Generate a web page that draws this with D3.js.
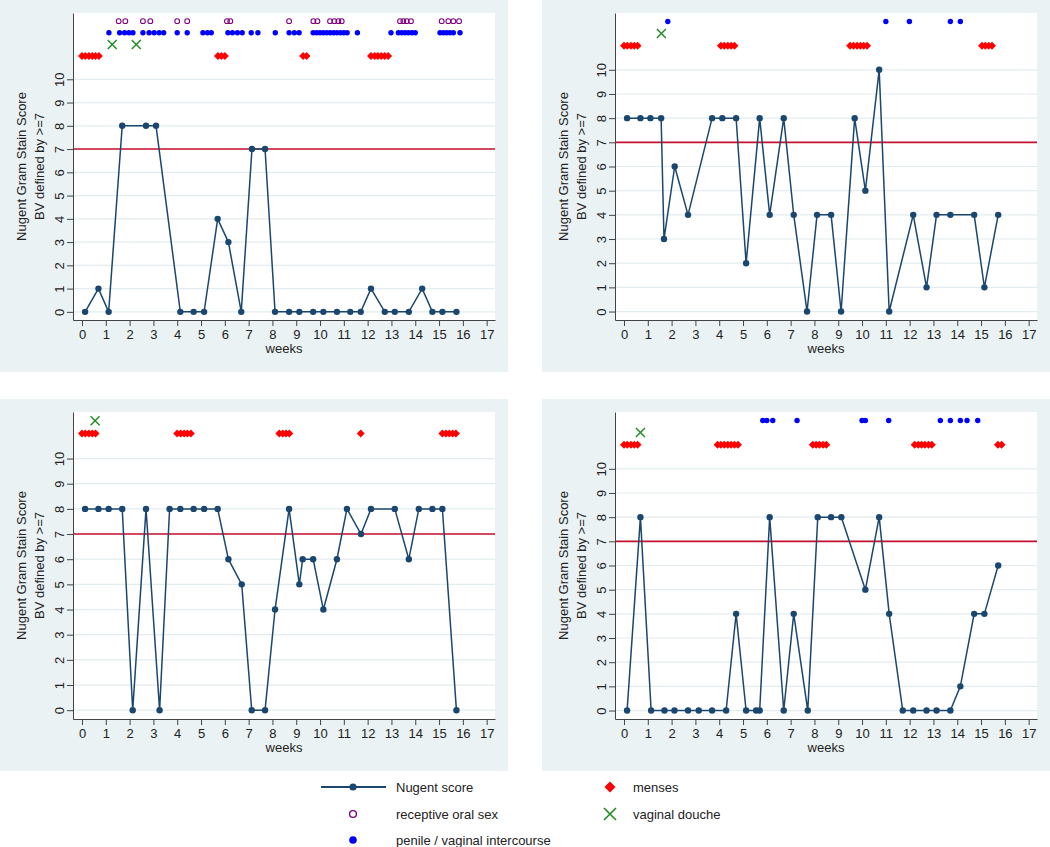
<!DOCTYPE html>
<html>
<head>
<meta charset="utf-8">
<script src="https://cdn.jsdelivr.net/npm/d3@7"></script>
<style>
  body { margin: 0; background: #fff; }
  text { font-family: "Liberation Sans", Arial, sans-serif; fill: #222; }
</style>
</head>
<body>
<svg id="chart" width="1050" height="847"></svg>
<script>
// ---- data (weeks, score) per participant panel ----
const nugentA = [[0.13,0],[0.69,1],[1.12,0],[1.69,8],[2.69,8],[3.11,8],[4.13,0],[4.69,0],[5.13,0],[5.7,4],[6.15,3],[6.69,0],[7.14,7],[7.69,7],[8.11,0],[8.7,0],[9.13,0],[9.71,0],[10.14,0],[10.71,0],[11.27,0],[11.71,0],[12.14,1],[12.72,0],[13.14,0],[13.73,0],[14.29,1],[14.72,0],[15.14,0],[15.73,0]];
const mensesA = [0,0.14,0.29,0.43,0.57,0.71,5.71,5.86,6.0,9.29,9.43,12.14,12.29,12.43,12.57,12.71,12.86];
const oralA = [1.54,1.82,2.56,2.87,4.0,4.42,6.09,6.23,8.7,9.72,9.89,10.42,10.6,10.77,10.91,13.36,13.5,13.64,13.82,15.11,15.39,15.6,15.84];
const penileA = [1.13,1.58,1.79,1.97,2.14,2.56,2.82,3.03,3.24,3.43,4.0,4.42,5.08,5.27,5.43,6.13,6.32,6.53,6.73,7.11,7.39,8.12,8.7,8.92,9.12,9.71,9.86,10.0,10.14,10.29,10.43,10.57,10.71,10.86,11.0,11.14,11.57,12.98,13.29,13.43,13.57,13.71,13.86,14.0,15.04,15.18,15.32,15.46,15.6,15.88];
const doucheA = [1.27,2.28];

const nugentB = [[0.13,8],[0.69,8],[1.11,8],[1.56,8],[1.68,3],[2.13,6],[2.69,4],[3.7,8],[4.13,8],[4.71,8],[5.13,2],[5.7,8],[6.12,4],[6.71,8],[7.13,4],[7.69,0],[8.11,4],[8.7,4],[9.12,0],[9.69,8],[10.14,5],[10.72,10],[11.14,0],[12.15,4],[12.71,1],[13.13,4],[13.71,4],[14.71,4],[15.14,1],[15.72,4]];
const mensesB = [0,0.14,0.29,0.43,0.57,4.07,4.21,4.36,4.5,4.64,9.5,9.64,9.79,9.93,10.07,10.21,15.04,15.18,15.32,15.46];
const oralB = [];
const penileB = [1.84,11.0,11.99,13.71,14.13];
const doucheB = [1.57];

const nugentC = [[0.13,8],[0.69,8],[1.12,8],[1.69,8],[2.13,0],[2.69,8],[3.26,0],[3.68,8],[4.13,8],[4.69,8],[5.13,8],[5.7,8],[6.15,6],[6.71,5],[7.13,0],[7.69,0],[8.11,4],[8.7,8],[9.13,5],[9.27,6],[9.71,6],[10.14,4],[10.71,6],[11.13,8],[11.72,7],[12.14,8],[13.14,8],[13.73,6],[14.15,8],[14.72,8],[15.14,8],[15.73,0]];
const mensesC = [0,0.14,0.29,0.43,0.57,4.0,4.14,4.29,4.43,4.57,8.29,8.43,8.57,8.71,11.71,15.14,15.29,15.43,15.57,15.71];
const oralC = [];
const penileC = [];
const doucheC = [0.55];

const nugentD = [[0.13,0],[0.69,8],[1.14,0],[1.7,0],[2.12,0],[2.69,0],[3.14,0],[3.7,0],[4.29,0],[4.71,4],[5.13,0],[5.55,0],[5.7,0],[6.12,8],[6.71,0],[7.13,4],[7.72,0],[8.14,8],[8.7,8],[9.13,8],[10.14,5],[10.72,8],[11.14,4],[11.71,0],[12.15,0],[12.71,0],[13.13,0],[13.71,0],[14.13,1],[14.71,4],[15.14,4],[15.72,6]];
const mensesD = [0,0.14,0.29,0.43,0.57,3.93,4.07,4.21,4.36,4.5,4.64,4.79,7.93,8.07,8.21,8.36,8.5,12.21,12.36,12.5,12.64,12.79,12.93,15.71,15.86];
const oralD = [];
const penileD = [5.83,6.0,6.25,7.27,10.0,10.14,11.12,13.29,13.71,14.13,14.41,14.86];
const doucheD = [0.69];

const yTicks = d3.range(0, 11);
const xTicks = d3.range(0, 18);
const bvCutoff = 7;
// row heights (in score units) where the event markers sit
const rowMenses = 11, rowDouche = 11.5, rowPenile = 12, rowOral = 12.5;

const legendItems = ["Nugent score", "receptive oral sex", "penile / vaginal intercourse", "menses", "vaginal douche"];

// ---- styling ----
const C = {
  bg: "#eaf2f3", grid: "#e3ecee", navy: "#1a476f", cut: "#c8102e",
  menses: "#ff0000", penile: "#0000ff", oral: "#800080", douche: "#1e8c1e", axis: "#444"
};

const panels = [
  { nugent: nugentA, menses: mensesA, oral: oralA, penile: penileA, douche: doucheA, ox: 0, oy: 0 },
  { nugent: nugentB, menses: mensesB, oral: oralB, penile: penileB, douche: doucheB, ox: 542, oy: 0 },
  { nugent: nugentC, menses: mensesC, oral: oralC, penile: penileC, douche: doucheC, ox: 0, oy: 399 },
  { nugent: nugentD, menses: mensesD, oral: oralD, penile: penileD, douche: doucheD, ox: 542, oy: 399 }
];

const svg = d3.select("#chart");
const outerW = 508, outerH = 372;
const m = { left: 73, top: 13, right: 13 };
const plotW = outerW - m.left - m.right, plotH = 307;

const diamond = s => `M0,${-s}L${s},0L0,${s}L${-s},0Z`;
const cross = s => `M${-s},${-s}L${s},${s}M${-s},${s}L${s},${-s}`;

function drawPanel(p) {
  const g = svg.append("g").attr("transform", `translate(${p.ox},${p.oy})`);
  g.append("rect").attr("width", outerW).attr("height", outerH).attr("fill", C.bg);

  // top of the y range depends on which marker rows are present
  let top = rowMenses;
  if (p.douche.length) top = Math.max(top, rowDouche);
  if (p.penile.length) top = Math.max(top, rowPenile);
  if (p.oral.length) top = Math.max(top, rowOral);

  const x = d3.scaleLinear().domain([-0.378, 17.35]).range([0, plotW]);
  const y = d3.scaleLinear().domain([-0.35, top + 0.35]).range([plotH, 0]);

  const plot = g.append("g").attr("transform", `translate(${m.left},${m.top})`);
  plot.append("rect").attr("width", plotW).attr("height", plotH).attr("fill", "#fff");

  plot.selectAll(".grid").data(yTicks).enter().append("line")
    .attr("x1", 0).attr("x2", plotW)
    .attr("y1", d => y(d)).attr("y2", d => y(d))
    .attr("stroke", C.grid).attr("stroke-width", 1.2);

  plot.append("line")
    .attr("x1", 0).attr("x2", plotW)
    .attr("y1", y(bvCutoff)).attr("y2", y(bvCutoff))
    .attr("stroke", C.cut).attr("stroke-width", 1.6);

  // axes
  const yAx = plot.append("g").call(d3.axisLeft(y).tickValues(yTicks).tickSize(6).tickSizeOuter(0));
  yAx.selectAll("text")
    .attr("x", null).attr("dy", null)
    .attr("text-anchor", "middle")
    .attr("transform", "translate(-9,0) rotate(-90)");
  const xAx = plot.append("g").attr("transform", `translate(0,${plotH})`)
    .call(d3.axisBottom(x).tickValues(xTicks).tickSize(6).tickSizeOuter(0).tickPadding(4));
  [yAx, xAx].forEach(a => {
    a.select(".domain").attr("stroke", C.axis);
    a.selectAll(".tick line").attr("stroke", C.axis);
    a.selectAll("text").style("font-size", "13px").attr("fill", "#222");
  });

  plot.append("text").attr("x", plotW / 2).attr("y", plotH + 33)
    .attr("text-anchor", "middle").style("font-size", "13px").text("weeks");
  const yt = plot.append("text").attr("text-anchor", "middle").style("font-size", "13px")
    .attr("transform", `translate(-47,${plotH / 2}) rotate(-90)`);
  yt.append("tspan").attr("x", 0).attr("y", 0).text("Nugent Gram Stain Score");
  yt.append("tspan").attr("x", 0).attr("y", 18).text("BV defined by >=7");

  // nugent series
  plot.append("path").datum(p.nugent)
    .attr("d", d3.line().x(d => x(d[0])).y(d => y(d[1])))
    .attr("fill", "none").attr("stroke", C.navy).attr("stroke-width", 1.5);
  plot.selectAll(".nug").data(p.nugent).enter().append("circle")
    .attr("cx", d => x(d[0])).attr("cy", d => y(d[1])).attr("r", 3.2).attr("fill", C.navy);

  // event markers
  plot.selectAll(".men").data(p.menses).enter().append("path")
    .attr("d", diamond(4)).attr("transform", d => `translate(${x(d)},${y(rowMenses)})`)
    .attr("fill", C.menses);
  plot.selectAll(".dou").data(p.douche).enter().append("path")
    .attr("d", cross(4.5)).attr("transform", d => `translate(${x(d)},${y(rowDouche)})`)
    .attr("stroke", C.douche).attr("stroke-width", 1.4).attr("fill", "none");
  plot.selectAll(".pen").data(p.penile).enter().append("circle")
    .attr("cx", d => x(d)).attr("cy", y(rowPenile)).attr("r", 2.7).attr("fill", C.penile);
  plot.selectAll(".oral").data(p.oral).enter().append("circle")
    .attr("cx", d => x(d)).attr("cy", y(rowOral)).attr("r", 2.4)
    .attr("fill", "none").attr("stroke", C.oral).attr("stroke-width", 1.1);
}

panels.forEach(drawPanel);

// ---- legend ----
const lg = svg.append("g");
const lx1 = 353, lx2 = 610, ly = [787, 814, 840];
lg.append("line").attr("x1", 321).attr("x2", 386).attr("y1", ly[0]).attr("y2", ly[0])
  .attr("stroke", C.navy).attr("stroke-width", 2);
lg.append("circle").attr("cx", lx1).attr("cy", ly[0]).attr("r", 3.6).attr("fill", C.navy);
lg.append("circle").attr("cx", lx1).attr("cy", ly[1]).attr("r", 3.4)
  .attr("fill", "none").attr("stroke", C.oral).attr("stroke-width", 1.4);
lg.append("circle").attr("cx", lx1).attr("cy", ly[2]).attr("r", 3.8).attr("fill", C.penile);
lg.append("path").attr("d", diamond(5.5)).attr("transform", `translate(${lx2},${ly[0]})`).attr("fill", C.menses);
lg.append("path").attr("d", cross(6)).attr("transform", `translate(${lx2},${ly[1]})`)
  .attr("stroke", C.douche).attr("stroke-width", 1.6).attr("fill", "none");

const legendPos = [[396, ly[0]], [396, ly[1]], [396, ly[2]], [633, ly[0]], [633, ly[1]]];
lg.selectAll(".lt").data(legendItems).enter().append("text")
  .attr("x", (d, i) => legendPos[i][0]).attr("y", (d, i) => legendPos[i][1])
  .attr("dy", "0.35em").style("font-size", "13px").text(d => d);
</script>
</body>
</html>
